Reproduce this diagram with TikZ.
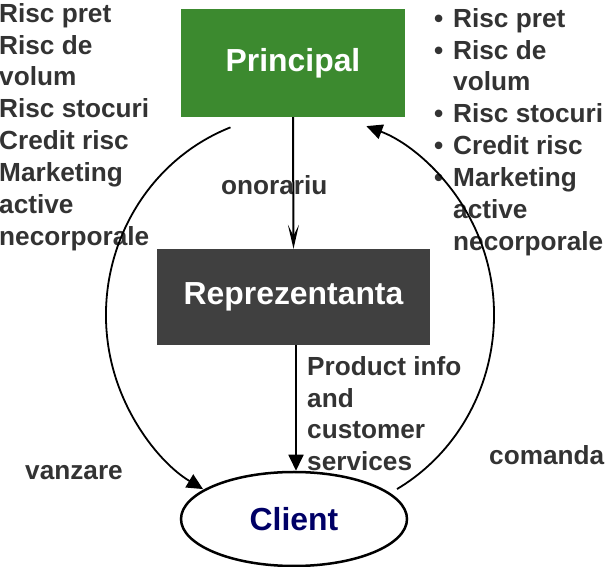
\documentclass[tikz,border=0pt]{standalone}
\usepackage{fontspec}
\setmainfont{Liberation Sans}
\usetikzlibrary{arrows.meta}
\usetikzlibrary{shapes.geometric}
\definecolor{boxgreen}{HTML}{3C8A2F}
\definecolor{boxgray}{HTML}{404040}
\definecolor{txtgray}{HTML}{333333}
\definecolor{navy}{HTML}{000066}

\begin{document}
\begin{tikzpicture}[x=1bp, y=1bp,
    lbl/.style={inner sep=0, text=txtgray, font=\bfseries\fontsize{26.3}{32}\selectfont, align=left},
    bigbox/.style={inner sep=0, text=white, font=\bfseries\fontsize{32}{36}\selectfont},
    barb/.style={-{Stealth[length=24bp, width=11bp, inset=11bp]}, line width=2bp},
    tri/.style={-{Triangle[length=16bp, width=15bp]}, line width=1.8bp}]

    \useasboundingbox (0,0) rectangle (612,567);

    % Boxes
    \node[bigbox, fill=boxgreen, minimum width=224bp, minimum height=108bp] (princ) at (293,504) {Principal};
    \node[bigbox, fill=boxgray, minimum width=273bp, minimum height=96bp] (repr) at (293.5,270) {Reprezentanta};
    \node[ellipse, draw, line width=2.5bp, inner sep=0, minimum width=226bp, minimum height=94bp,
          text=navy, font=\bfseries\fontsize{32}{36}\selectfont] (cli) at (294,48) {Client};

    % Risks, left and right
    \node[lbl, anchor=north west] (risksL) at (-1,564) {Risc pret\\Risc de\\volum\\Risc stocuri\\Credit risc\\Marketing\\active\\necorporale};
    \node[lbl, anchor=north west] (risksR) at (453,559) {%
        \llap{\textbullet\hspace{10bp}}Risc pret\\
        \llap{\textbullet\hspace{10bp}}Risc de\\
        volum\\
        \llap{\textbullet\hspace{10bp}}Risc stocuri\\
        \llap{\textbullet\hspace{10bp}}Credit risc\\
        \llap{\textbullet\hspace{10bp}}Marketing\\
        active\\
        necorporale};

    % Flow labels
    \node[lbl, anchor=base west] (fee) at (221,372) {onorariu};
    \node[lbl, anchor=north west] (info) at (307,211) {Product info\\and\\customer\\services};
    \node[lbl, anchor=base west] (sale) at (25,87) {vanzare};
    \node[lbl, anchor=base west] (order) at (489,102) {comanda};

    % Straight arrows
    \draw[barb] (princ.south) -- (repr.north);
    \draw[tri] ([xshift=2.5bp]repr.south) -- ([xshift=2bp]cli.north);

    % Loop arcs
    \coordinate (loop) at (300,252);
    \path (loop) ++(111:194 and 201) coordinate (saleS);
    \path (loop) ++(-60:194 and 201) coordinate (orderS);
    \draw[tri] (saleS) arc[start angle=111, end angle=240, x radius=194bp, y radius=201bp];
    \draw[tri] (orderS) arc[start angle=-60, end angle=70, x radius=194bp, y radius=201bp];

\end{tikzpicture}
\end{document}
